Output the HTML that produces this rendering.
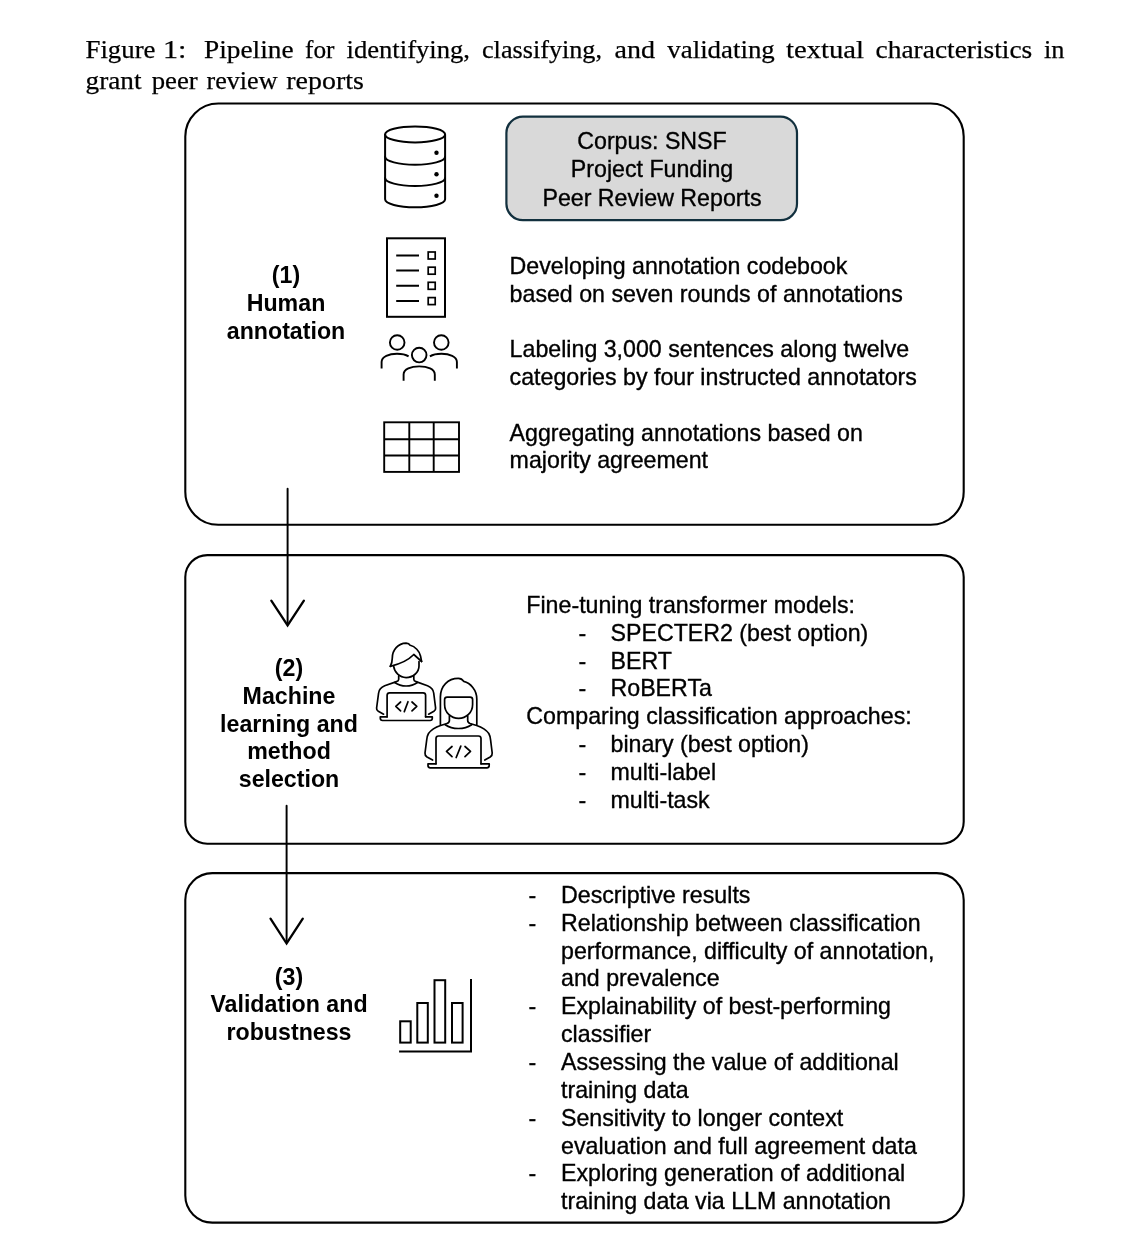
<!DOCTYPE html>
<html><head><meta charset="utf-8">
<style>
html,body{margin:0;padding:0;background:#fff;}
body{width:1124px;height:1248px;overflow:hidden;position:relative;}
svg{position:absolute;left:0;top:0;will-change:transform;}
.cap{font-family:"Liberation Serif",serif;font-size:26.2px;fill:#000;stroke:#000;stroke-width:0.25px;}
.t{font-family:"Liberation Sans",sans-serif;font-size:23.2px;fill:#000;stroke:#000;stroke-width:0.35px;}
.b{font-family:"Liberation Sans",sans-serif;font-size:23.2px;font-weight:bold;fill:#000;}
</style></head>
<body>
<svg width="1124" height="1248" viewBox="0 0 1124 1248">
<!-- caption -->
<g class="cap">
<text x="85.5" y="58.4" textLength="70" lengthAdjust="spacingAndGlyphs">Figure</text>
<text x="163" y="58.4" textLength="23.5" lengthAdjust="spacingAndGlyphs">1:</text>
<text x="204" y="58.4" textLength="89.5" lengthAdjust="spacingAndGlyphs">Pipeline</text>
<text x="305" y="58.4" textLength="29.5" lengthAdjust="spacingAndGlyphs">for</text>
<text x="346.5" y="58.4" textLength="123.5" lengthAdjust="spacingAndGlyphs">identifying,</text>
<text x="482" y="58.4" textLength="120" lengthAdjust="spacingAndGlyphs">classifying,</text>
<text x="614.5" y="58.4" textLength="40.5" lengthAdjust="spacingAndGlyphs">and</text>
<text x="667.3" y="58.4" textLength="107.5" lengthAdjust="spacingAndGlyphs">validating</text>
<text x="786" y="58.4" textLength="78" lengthAdjust="spacingAndGlyphs">textual</text>
<text x="875.6" y="58.4" textLength="156.7" lengthAdjust="spacingAndGlyphs">characteristics</text>
<text x="1044" y="58.4" textLength="20.5" lengthAdjust="spacingAndGlyphs">in</text>
<text x="85.5" y="88.9" textLength="56" lengthAdjust="spacingAndGlyphs">grant</text>
<text x="151.7" y="88.9" textLength="46" lengthAdjust="spacingAndGlyphs">peer</text>
<text x="206.5" y="88.9" textLength="71" lengthAdjust="spacingAndGlyphs">review</text>
<text x="286.3" y="88.9" textLength="77.5" lengthAdjust="spacingAndGlyphs">reports</text>
</g>

<!-- boxes -->
<g fill="none" stroke="#000" stroke-width="2.1">
<rect x="185.3" y="103.5" width="778.4" height="421.3" rx="33" ry="33"/>
<rect x="185.3" y="555.1" width="778.4" height="288.6" rx="22" ry="22"/>
<rect x="185.3" y="873.1" width="778.4" height="349.5" rx="27" ry="27"/>
</g>
<!-- arrows -->
<g fill="none" stroke="#000" stroke-width="1.95" stroke-linecap="round" stroke-linejoin="round">
<path d="M287.6 488.8 V624"/>
<path d="M286.6 805.7 V942"/>
</g>
<g fill="none" stroke="#000" stroke-width="2.3" stroke-linecap="round" stroke-linejoin="miter">
<path d="M271.3 600.6 L287.6 625.3 L303.9 600.6"/>
<path d="M270.5 918.6 L286.6 943.5 L302.8 918.6"/>
</g>

<!-- corpus box -->
<rect x="506.4" y="116.6" width="290.6" height="103.6" rx="16.5" ry="16.5" fill="#d9d9d9" stroke="#12303e" stroke-width="2.2"/>
<g class="t" text-anchor="middle">
<text x="652" y="149.2">Corpus: SNSF</text>
<text x="652" y="177">Project Funding</text>
<text x="652" y="205.5">Peer Review Reports</text>
</g>

<!-- labels -->
<g class="b" text-anchor="middle">
<text x="286" y="283.3">(1)</text>
<text x="286" y="311.1">Human</text>
<text x="286" y="338.9">annotation</text>
<text x="289" y="676.3">(2)</text>
<text x="289" y="704">Machine</text>
<text x="289" y="731.7">learning and</text>
<text x="289" y="759.4">method</text>
<text x="289" y="787.2">selection</text>
<text x="289" y="984.6">(3)</text>
<text x="289" y="1012">Validation and</text>
<text x="289" y="1039.6">robustness</text>
</g>

<!-- box1 text -->
<g class="t">
<text x="509.6" y="273.5">Developing annotation codebook</text>
<text x="509.6" y="301.5">based on seven rounds of annotations</text>
<text x="509.6" y="357.4">Labeling 3,000 sentences along twelve</text>
<text x="509.6" y="385.3">categories by four instructed annotators</text>
<text x="509.6" y="440.5">Aggregating annotations based on</text>
<text x="509.6" y="468.3">majority agreement</text>
</g>

<!-- box2 text -->
<g class="t">
<text x="526.3" y="613">Fine-tuning transformer models:</text>
<text x="578.5" y="640.8">-</text><text x="610.5" y="640.8">SPECTER2 (best option)</text>
<text x="578.5" y="668.6">-</text><text x="610.5" y="668.6">BERT</text>
<text x="578.5" y="696.4">-</text><text x="610.5" y="696.4">RoBERTa</text>
<text x="526.3" y="724.2">Comparing classification approaches:</text>
<text x="578.5" y="752">-</text><text x="610.5" y="752">binary (best option)</text>
<text x="578.5" y="779.8">-</text><text x="610.5" y="779.8">multi-label</text>
<text x="578.5" y="807.6">-</text><text x="610.5" y="807.6">multi-task</text>
</g>

<!-- box3 text -->
<g class="t">
<text x="528.5" y="902.9">-</text><text x="561" y="902.9">Descriptive results</text>
<text x="528.5" y="930.75">-</text><text x="561" y="930.75">Relationship between classification</text>
<text x="561" y="958.6">performance, difficulty of annotation,</text>
<text x="561" y="986.45">and prevalence</text>
<text x="528.5" y="1014.3">-</text><text x="561" y="1014.3">Explainability of best-performing</text>
<text x="561" y="1042.15">classifier</text>
<text x="528.5" y="1070">-</text><text x="561" y="1070">Assessing the value of additional</text>
<text x="561" y="1097.85">training data</text>
<text x="528.5" y="1125.7">-</text><text x="561" y="1125.7">Sensitivity to longer context</text>
<text x="561" y="1153.55">evaluation and full agreement data</text>
<text x="528.5" y="1181.4">-</text><text x="561" y="1181.4">Exploring generation of additional</text>
<text x="561" y="1209.3">training data via LLM annotation</text>
</g>

<!-- ICONS -->
<g fill="none" stroke="#000" stroke-width="2" stroke-linecap="round" stroke-linejoin="round">
<!-- database -->
<ellipse cx="415.1" cy="134.4" rx="30" ry="8"/>
<path d="M385.1 134.4 V199.3 A30 8 0 0 0 445.1 199.3 V134.4"/>
<path d="M385.1 156.7 A30 8 0 0 0 445.1 156.7"/>
<path d="M385.1 178 A30 8 0 0 0 445.1 178"/>
</g>
<g fill="#000">
<circle cx="436.5" cy="152.7" r="2.2"/>
<circle cx="436.5" cy="174.3" r="2.2"/>
<circle cx="436.5" cy="195.7" r="2.2"/>
</g>

<!-- checklist -->
<g fill="none" stroke="#000" stroke-width="2">
<rect x="387" y="238.3" width="58" height="78.5"/>
<path d="M396.2 255.4 H419 M396.2 270.6 H419 M396.2 285.7 H419 M396.2 301 H419"/>
</g>
<g fill="none" stroke="#000" stroke-width="1.7">
<rect x="428.2" y="252" width="7" height="7"/>
<rect x="428.2" y="267.2" width="7" height="7"/>
<rect x="428.2" y="282.3" width="7" height="7"/>
<rect x="428.2" y="297.6" width="7" height="7"/>
</g>

<!-- people -->
<g fill="none" stroke="#000" stroke-width="1.9" stroke-linecap="butt">
<circle cx="397.2" cy="342.5" r="7.3"/>
<circle cx="441.3" cy="342.5" r="7.3"/>
<circle cx="419.2" cy="355.1" r="7.3"/>
<path d="M381.6 368.5 V362 C381.6 356.5 389 353.8 397 353.8 C402 353.8 406 354.8 408.6 356.4"/>
<path d="M456.9 368.5 V362 C456.9 356.5 449.5 353.8 441.5 353.8 C436.5 353.8 432.5 354.8 429.9 356.4"/>
<path d="M403.6 380.8 V374.5 C403.6 369 411 366.4 419.2 366.4 C427.4 366.4 434.8 369 434.8 374.5 V380.8"/>
</g>

<!-- grid -->
<g fill="none" stroke="#000" stroke-width="1.9">
<rect x="384.2" y="422.3" width="74.8" height="49.6"/>
<path d="M409.3 422.3 V471.9 M433.7 422.3 V471.9 M384.2 439.3 H459 M384.2 455.5 H459"/>
</g>

<!-- developers -->
<g fill="none" stroke="#000" stroke-width="1.7" stroke-linecap="round" stroke-linejoin="round">
<!-- man -->
<path d="M390.3 666.3 C391.5 664 392.3 661.5 392.3 658 C392.3 650 398 643.3 406.1 643.1 C408 643.1 409.5 644 410.2 645.3 C415 646.5 419.5 651 420.5 656 L421.6 661.5"/>
<path d="M390.3 666.3 C398 664.5 408 660.5 413.8 654.5 L421.6 661.5"/>
<path d="M393.6 666 C394.5 672.5 399.5 677.6 406.1 677.6 C412.8 677.6 419 672.5 419 666 V661.5"/>
<path d="M398.7 675.9 V679.2 C398.7 680.5 397.8 681.2 396.5 681.6 L384.7 685.8 C381 687.3 379 689.5 378.6 693 L376.6 708 C376.4 709.5 377 710.5 378.3 711.3 L383.6 714.2"/>
<path d="M413.8 675.9 V679.2 C413.8 680.5 414.7 681.2 416 681.6 L427.5 685.8 C431.2 687.3 433.3 689.5 433.7 693 L435.6 708 C435.8 709.5 435.2 710.5 433.9 711.3 L428.6 714.2"/>
<path d="M394.7 682.5 C398 684.8 401.8 686 406.1 686 C410.4 686 414.2 684.8 417.5 682.5"/>
<path d="M387.1 716.8 V695.3 Q387.1 692.8 389.6 692.8 H423.1 Q425.6 692.8 425.6 695.3 V716.8"/>
<path d="M387.1 716.8 H380.3 V718.3 Q380.3 720.5 382.5 720.5 H430.1 Q432.3 720.5 432.3 718.3 V716.8 H425.6"/>
<path d="M400.6 702 L395.8 706.3 L400.6 710.9 M408 701.7 L404.3 711.6 M412 702 L416.8 706.3 L412 710.9"/>
<!-- woman -->
<path d="M440.4 724.7 V697 C440.4 686 448 678.4 458.3 678.4 C460.5 678.4 462.5 679.5 463.7 681.4 C470.5 683 476.8 690 476.8 699 V724.7"/>
<path d="M444.6 704.5 V699.6 Q444.6 697.1 447.1 697.1 H470.1 Q472.6 697.1 472.6 699.6 V704.5 C472.6 712.5 466.3 718.4 458.6 718.4 C450.9 718.4 444.6 712.5 444.6 704.5 Z"/>
<path d="M449.4 715.8 V720.5 C449.4 722 448.5 723 447 723.5 L440.6 725.5 C436 727 431 730 428.5 733.5 C427.3 735.5 427 737 426.7 740 L425 753 C424.8 755 425.5 756 427 757 L432.6 760"/>
<path d="M467.7 715.8 V720.5 C467.7 722 468.6 723 470.1 723.5 L476.6 725.5 C481.3 727 486.3 730 488.8 733.5 C490 735.5 490.3 737 490.6 740 L492.2 753 C492.4 755 491.7 756 490.2 757 L484.8 760"/>
<path d="M445.2 724.7 C449 727.3 453.5 728.5 458.4 728.5 C463.3 728.5 467.8 727.3 471.7 724.7"/>
<path d="M436 763.8 V738.5 Q436 736 438.5 736 H478.5 Q481 736 481 738.5 V763.8"/>
<path d="M436 763.8 H428 V765.5 Q428 767.8 430.3 767.8 H486.9 Q489.2 767.8 489.2 765.5 V763.8 H481"/>
<path d="M452 746.5 L446.5 751.4 L452 756.6 M460.8 746.1 L456.2 757.5 M465 746.5 L470.5 751.4 L465 756.6"/>
</g>

<!-- bar chart -->
<g fill="none" stroke="#000" stroke-width="2">
<rect x="400.2" y="1021.3" width="10.5" height="21.3"/>
<rect x="417.3" y="1003" width="10.5" height="39.6"/>
<rect x="434.5" y="980.2" width="10.7" height="62.4"/>
<rect x="452" y="1003" width="10.6" height="39.6"/>
<path d="M399.1 1051.5 H471 V979.1"/>
</g>
</svg>
</body></html>
